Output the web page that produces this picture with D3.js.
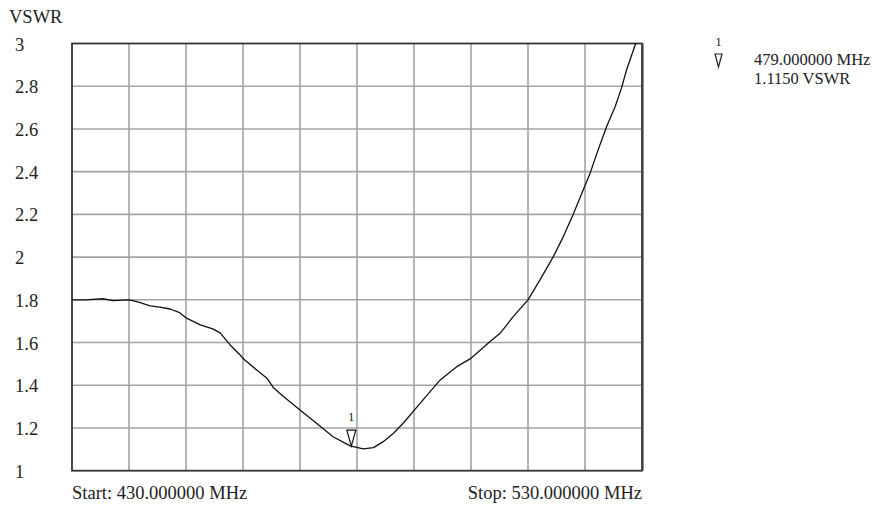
<!DOCTYPE html>
<html>
<head>
<meta charset="utf-8">
<script src="https://cdn.jsdelivr.net/npm/d3@7"></script>
<style>
  html, body { margin: 0; padding: 0; background: #fff; }
  svg { display: block; }
</style>
</head>
<body>
<svg id="chart" width="895" height="507"></svg>
<script>
// ---- data ----
const freqMHz = [430,432.3,435.4,437.2,440,441.4,443.7,445.4,447.2,448.9,450.1,452.5,454.7,456,457.7,459.5,460,462.4,464.2,465.3,467.1,470,472.9,475.8,478.8,481.1,482.9,484.6,486.4,488.1,491.1,494.6,497.5,500,503.3,505.1,507.4,510,512.1,514.4,516.2,517.9,519.7,520.9,522.3,523.8,525.3,526.4,527.3,528.8,530];
const vswr = [1.800,1.800,1.805,1.796,1.800,1.792,1.772,1.766,1.757,1.740,1.714,1.683,1.664,1.645,1.590,1.542,1.525,1.472,1.433,1.390,1.347,1.284,1.222,1.159,1.116,1.102,1.108,1.136,1.175,1.222,1.316,1.425,1.487,1.526,1.604,1.643,1.721,1.800,1.893,2.000,2.096,2.198,2.315,2.393,2.502,2.611,2.705,2.791,2.877,2.993,3.06];
const yTicks = [1, 1.2, 1.4, 1.6, 1.8, 2, 2.2, 2.4, 2.6, 2.8, 3];
const yTickLabels = ["1", "1.2", "1.4", "1.6", "1.8", "2", "2.2", "2.4", "2.6", "2.8", "3"];
const xGrid = [430, 440, 450, 460, 470, 480, 490, 500, 510, 520, 530];
const startLabel = "Start: 430.000000 MHz";
const stopLabel = "Stop: 530.000000 MHz";
const yTitle = "VSWR";
const markerId = "1";
const markerFreq = 479.0;
const markerVswr = 1.115;
const markerFreqLabel = "479.000000 MHz";
const markerVswrLabel = "1.1150 VSWR";

// ---- layout ----
const FONT = "'Liberation Serif', 'DejaVu Serif', 'Times New Roman', Times, serif";
const svg = d3.select("#chart");
const L = 72, R = 642, T = 43.5, B = 470.7;
const x = d3.scaleLinear().domain([430, 530]).range([L, R]);
const y = d3.scaleLinear().domain([1, 3]).range([B, T]);
const fontSize = 18.5;

function txt(sel) {
  return sel.attr("font-family", FONT).attr("fill", "#222");
}

// grid
const g = svg.append("g");
g.selectAll("line.vx").data(xGrid.slice(1, -1)).join("line")
  .attr("x1", d => x(d)).attr("x2", d => x(d))
  .attr("y1", T).attr("y2", B)
  .attr("stroke", "#a3a3a3").attr("stroke-width", 1.6);
g.selectAll("line.hy").data(yTicks.slice(1, -1)).join("line")
  .attr("x1", L).attr("x2", R)
  .attr("y1", d => y(d)).attr("y2", d => y(d))
  .attr("stroke", "#a3a3a3").attr("stroke-width", 1.6);

// frame
svg.append("rect").attr("x", L).attr("y", T).attr("width", R - L).attr("height", B - T)
  .attr("fill", "none").attr("stroke", "#333").attr("stroke-width", 1.8);
svg.append("line").attr("x1", R + 0.5).attr("x2", R + 0.5).attr("y1", T).attr("y2", B)
  .attr("stroke", "#444").attr("stroke-width", 2.2);

// clip
svg.append("clipPath").attr("id", "clip").append("rect")
  .attr("x", L).attr("y", T).attr("width", R - L).attr("height", B - T);

// curve
const line = d3.line().x((d, i) => x(freqMHz[i])).y(d => y(d)).curve(d3.curveLinear);
svg.append("path").datum(vswr).attr("d", line)
  .attr("clip-path", "url(#clip)")
  .attr("fill", "none").attr("stroke", "#111").attr("stroke-width", 1.3)
  .attr("stroke-linejoin", "round");

// y tick labels
txt(svg.selectAll("text.yt").data(yTicks).join("text"))
  .attr("x", 15).attr("y", d => y(d) + 7)
  .attr("font-size", fontSize)
  .text((d, i) => yTickLabels[i]);

// y title
txt(svg.append("text")).attr("x", 9).attr("y", 23).attr("font-size", fontSize).text(yTitle);

// start / stop
txt(svg.append("text")).attr("x", L).attr("y", 499).attr("font-size", fontSize).text(startLabel);
txt(svg.append("text")).attr("x", R).attr("y", 499).attr("text-anchor", "end").attr("font-size", fontSize).text(stopLabel);

// marker on curve
const mx = x(markerFreq), my = y(markerVswr);
svg.append("path")
  .attr("d", `M${mx - 4.5},${my - 16}L${mx + 4.5},${my - 16}L${mx},${my}Z`)
  .attr("fill", "#fff").attr("stroke", "#111").attr("stroke-width", 1.2);
txt(svg.append("text")).attr("x", mx).attr("y", my - 25).attr("text-anchor", "middle")
  .attr("font-size", 13).text(markerId);

// marker readout
const rx = 718.5;
txt(svg.append("text")).attr("x", rx).attr("y", 46).attr("text-anchor", "middle")
  .attr("font-size", 13).text(markerId);
svg.append("path")
  .attr("d", `M${rx - 3.5},${54}L${rx + 3.5},${54}L${rx},${67}Z`)
  .attr("fill", "none").attr("stroke", "#222").attr("stroke-width", 1.2);
txt(svg.append("text")).attr("x", 754).attr("y", 65).attr("font-size", 16.5).text(markerFreqLabel);
txt(svg.append("text")).attr("x", 754).attr("y", 83.5).attr("font-size", 16.5).text(markerVswrLabel);
</script>
</body>
</html>
